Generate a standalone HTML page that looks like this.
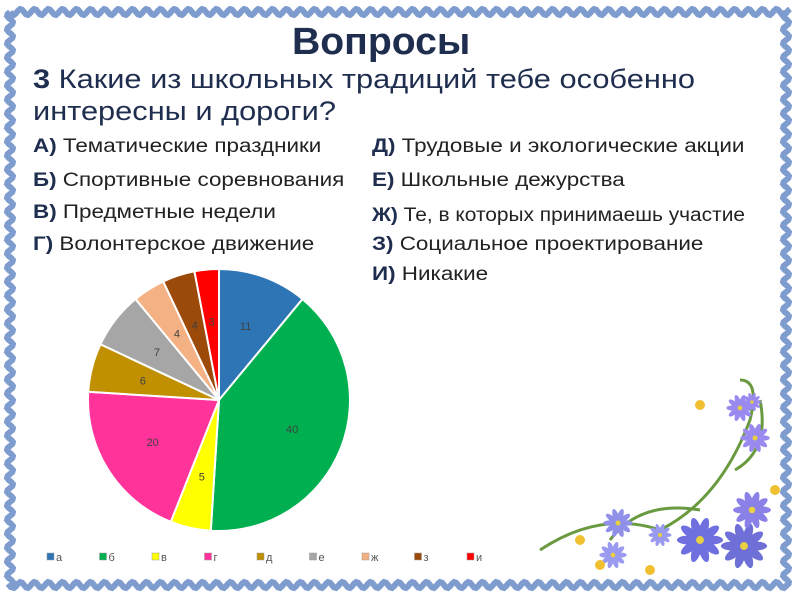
<!DOCTYPE html>
<html><head><meta charset="utf-8"><style>
body{margin:0;background:#fff;}
#c{position:relative;width:800px;height:600px;overflow:hidden;font-family:"Liberation Sans",sans-serif;color:#1f2d4e;}
.t{position:absolute;white-space:nowrap;transform-origin:0 0;}
.o{font-size:19px;color:#222;transform:scaleX(1.18);}
.o b{color:#1f2d4e;}
</style></head><body><div id="c">
<svg id="s" width="800" height="600" style="position:absolute;left:0;top:0"></svg>
<div class="t" style="left:292px;top:21px;font-size:38px;font-weight:bold;color:#1f2d4e;transform:scaleX(1.03)">Вопросы</div>
<div class="t" style="left:33px;top:63px;font-size:27px;line-height:32px;color:#1f2d4e;transform:scaleX(1.14)"><b>3</b> Какие из школьных традиций тебе особенно<br>интересны и дороги?</div>
<div class="t o" style="left:33px;top:136px"><b>А)</b> Тематические праздники</div>
<div class="t o" style="left:33px;top:170px"><b>Б)</b> Спортивные соревнования</div>
<div class="t o" style="left:33px;top:202px"><b>В)</b> Предметные недели</div>
<div class="t o" style="left:33px;top:234px"><b>Г)</b> Волонтерское движение</div>
<div class="t o" style="left:372px;top:136px"><b>Д)</b> Трудовые и экологические акции</div>
<div class="t o" style="left:372px;top:170px"><b>Е)</b> Школьные дежурства</div>
<div class="t o" style="left:372px;top:205px;transform:scaleX(1.1)"><b>Ж)</b> Те, в которых принимаешь участие</div>
<div class="t o" style="left:372px;top:234px"><b>З)</b> Социальное проектирование</div>
<div class="t o" style="left:372px;top:264px"><b>И)</b> Никакие</div>
</div>
<script>
var s=document.getElementById('s'),h='';
var v=[11,40,5,20,6,7,4,4,3],col=['#2e75b6','#00b050','#ffff00','#ff3399','#c09000','#a6a6a6','#f4b183','#9c4a0a','#ff0000'];
var cx=219,cy=400,r=131,a=0;
for(var i=0;i<9;i++){var a0=a/100*2*Math.PI,a1=(a+v[i])/100*2*Math.PI;
var x0=cx+r*Math.sin(a0),y0=cy-r*Math.cos(a0),x1=cx+r*Math.sin(a1),y1=cy-r*Math.cos(a1);
h+='<path d="M'+cx+','+cy+'L'+x0+','+y0+'A'+r+','+r+' 0 '+(v[i]>50?1:0)+',1 '+x1+','+y1+'Z" fill="'+col[i]+'" stroke="#fff" stroke-width="2"/>';
var am=(a0+a1)/2,rl=r*0.6;
h+='<text x="'+(cx+rl*Math.sin(am))+'" y="'+(cy-rl*Math.cos(am)+4)+'" font-size="11" fill="#404040" text-anchor="middle" font-family="Liberation Sans">'+v[i]+'</text>';
a+=v[i];}
var L=['а','б','в','г','д','е','ж','з','и'];
for(i=0;i<9;i++){var x=47+i*52.5;h+='<rect x="'+x+'" y="553" width="7" height="7" fill="'+col[i]+'" stroke="#999" stroke-width="0.5"/><text x="'+(x+9)+'" y="561" font-size="11" fill="#555" font-family="Liberation Sans">'+L[i]+'</text>';}
function fl(x,y,rr,c){var p='';for(var k=0;k<10;k++){var t=k/10*2*Math.PI;p+='<ellipse cx="'+(x+rr*0.55*Math.cos(t))+'" cy="'+(y+rr*0.55*Math.sin(t))+'" rx="'+(rr*0.5)+'" ry="'+(rr*0.2)+'" transform="rotate('+(t*180/Math.PI)+' '+(x+rr*0.55*Math.cos(t))+' '+(y+rr*0.55*Math.sin(t))+')" fill="'+c+'"/>';}return p+'<circle cx="'+x+'" cy="'+y+'" r="'+(rr*0.18)+'" fill="#e8d040"/>';}
h+='<path d="M540,550 Q600,510 660,530 Q720,500 750,420 Q760,380 740,380 M610,540 Q640,500 700,510 M735,470 Q770,450 760,400" stroke="#6a9a40" stroke-width="3" fill="none"/>';
[[700,540,22,'#6f6fe0'],[744,546,22,'#6f6fd8'],[752,510,18,'#8a80e8'],[755,438,14,'#9a8af0'],[740,408,13,'#9a8af0'],[618,523,14,'#9090e8'],[613,555,13,'#9a9af0'],[660,535,11,'#9a9af0'],[752,402,9,'#9a8af0']].forEach(function(f){h+=fl(f[0],f[1],f[2],f[3]);});
[[700,405],[775,490],[650,570],[580,540],[600,565]].forEach(function(p){h+='<circle cx="'+p[0]+'" cy="'+p[1]+'" r="5" fill="#f0c030"/>';});
function wave(x0,y0,x1,y1){var d='',n=Math.hypot(x1-x0,y1-y0),ux=(x1-x0)/n,uy=(y1-y0)/n;for(var t=0;t<=n;t+=2){var o=3*Math.sin(t/14*2*Math.PI);d+=(t?'L':'M')+(x0+ux*t-uy*o)+','+(y0+uy*t+ux*o);}return '<path d="'+d+'" stroke="#7f9ccf" stroke-width="6" fill="none"/>';}
h+=wave(10,12,790,12)+wave(10,12,10,588)+wave(786,12,786,588)+wave(10,585,790,585);
s.innerHTML=h;
</script>
</body></html>
